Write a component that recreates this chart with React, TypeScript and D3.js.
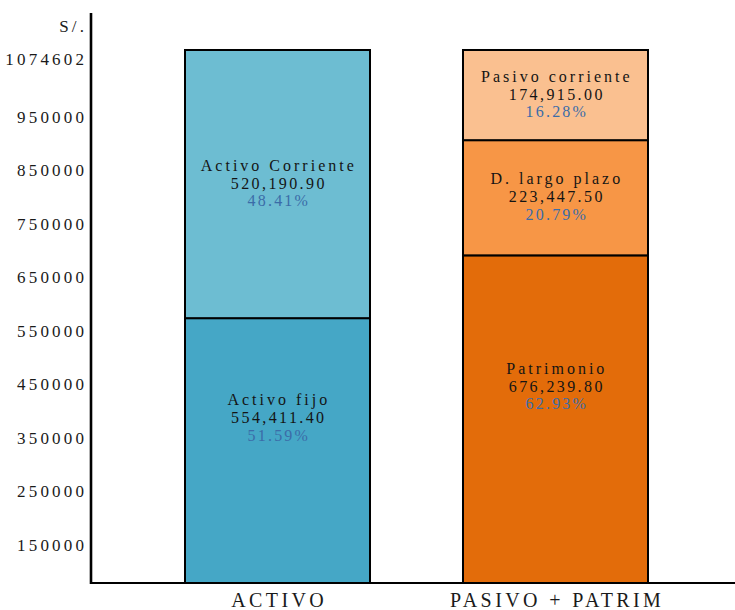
import React from "react";
import * as d3 from "d3";

// Balance sheet structure: assets vs. liabilities + equity (S/.)
const categories = ["ACTIVO", "PASIVO + PATRIM"];
const segmentNames = [
  ["Activo fijo", "Activo Corriente"],
  ["Patrimonio", "D. largo plazo", "Pasivo corriente"],
];
const segmentValues = [
  [554411.4, 520190.9],
  [676239.8, 223447.5, 174915.0],
];
const segmentPercents = [
  [51.59, 48.41],
  [62.93, 20.79, 16.28],
];
const tickValues = [150000, 250000, 350000, 450000, 550000, 650000, 750000, 850000, 950000, 1074602];
const totalValue = 1074602;
const unitLabel = "S/.";

const palette = [
  ["#45a7c6", "#6dbdd2"],
  ["#e36c0a", "#f79646", "#fac090"],
];

const W = 735;
const H = 610;
const axisX = 91;
const baseY = 583;
const topY = 50;
const font = '"Liberation Serif", "Times New Roman", Times, serif';

export default function App() {
  // scale for the stacked segments
  const y = d3.scaleLinear().domain([40650, totalValue]).range([baseY, topY]);
  // scale for the axis labels
  const yLabel = d3.scaleLinear().domain([78340, totalValue]).range([baseY, topY]);
  const x = d3
    .scaleBand<string>()
    .domain(categories)
    .range([185, 648])
    .paddingInner(0.3345)
    .paddingOuter(0);

  const fmtValue = d3.format(",.2f");
  const fmtPct = d3.format(".2f");
  const labelFloor = baseY - 64;

  return (
    <svg
      width={W}
      height={H}
      style={{ position: "absolute", left: 0, top: 0, display: "block", background: "#fff", fontFamily: font }}
    >
      {/* bars */}
      {categories.map((cat, ci) => {
        const x0 = x(cat) as number;
        const bw = x.bandwidth();
        let cum = 0;
        return (
          <g key={cat}>
            {segmentValues[ci].map((v, si) => {
              const lo = cum;
              cum += v;
              const yTop = y(cum);
              const yBot = si === 0 ? baseY : y(lo);
              return (
                <rect
                  key={si}
                  x={x0}
                  y={yTop}
                  width={bw}
                  height={yBot - yTop}
                  fill={palette[ci][si]}
                  stroke="#000"
                  strokeWidth={2}
                />
              );
            })}
          </g>
        );
      })}

      {/* segment labels */}
      {categories.map((cat, ci) => {
        const cx = (x(cat) as number) + x.bandwidth() / 2 + 1.3;
        let cum = 0;
        return (
          <g key={cat + "-labels"} textAnchor="middle" fontSize={16}>
            {segmentValues[ci].map((v, si) => {
              const lo = cum;
              cum += v;
              const yTop = y(cum);
              const yBot = si === 0 ? Math.min(baseY, labelFloor) : y(lo);
              const mid = (yTop + yBot) / 2;
              return (
                <g key={si}>
                  <text x={cx} y={mid - 13.3} fill="#141414" letterSpacing={3}>
                    {segmentNames[ci][si]}
                  </text>
                  <text x={cx} y={mid + 4.7} fill="#141414" letterSpacing={2.4}>
                    {fmtValue(v)}
                  </text>
                  <text x={cx} y={mid + 22} fill="#3b6ca8" letterSpacing={2.2}>
                    {fmtPct(segmentPercents[ci][si])}%
                  </text>
                </g>
              );
            })}
          </g>
        );
      })}

      {/* axes */}
      <line x1={axisX} x2={axisX} y1={13} y2={baseY + 1} stroke="#000" strokeWidth={2.6} />
      <line x1={axisX - 1} x2={W} y1={baseY} y2={baseY} stroke="#000" strokeWidth={2} />

      {/* y tick labels */}
      <g textAnchor="end" fontSize={17} letterSpacing={3.2} fill="#1a1a1a">
        {tickValues.map((t) => (
          <text
            key={t}
            x={84 + 3.2}
            y={t === totalValue ? y(t) + 9 : yLabel(t)}
            dy="0.35em"
          >
            {t}
          </text>
        ))}
        <text x={84 + 3.2} y={31.5}>
          {unitLabel}
        </text>
      </g>

      {/* category labels */}
      <g textAnchor="middle" fontSize={20} letterSpacing={3.4} fill="#1a1a1a">
        {categories.map((cat) => (
          <text key={cat} x={(x(cat) as number) + x.bandwidth() / 2 + 1.7} y={607}>
            {cat}
          </text>
        ))}
      </g>
    </svg>
  );
}
